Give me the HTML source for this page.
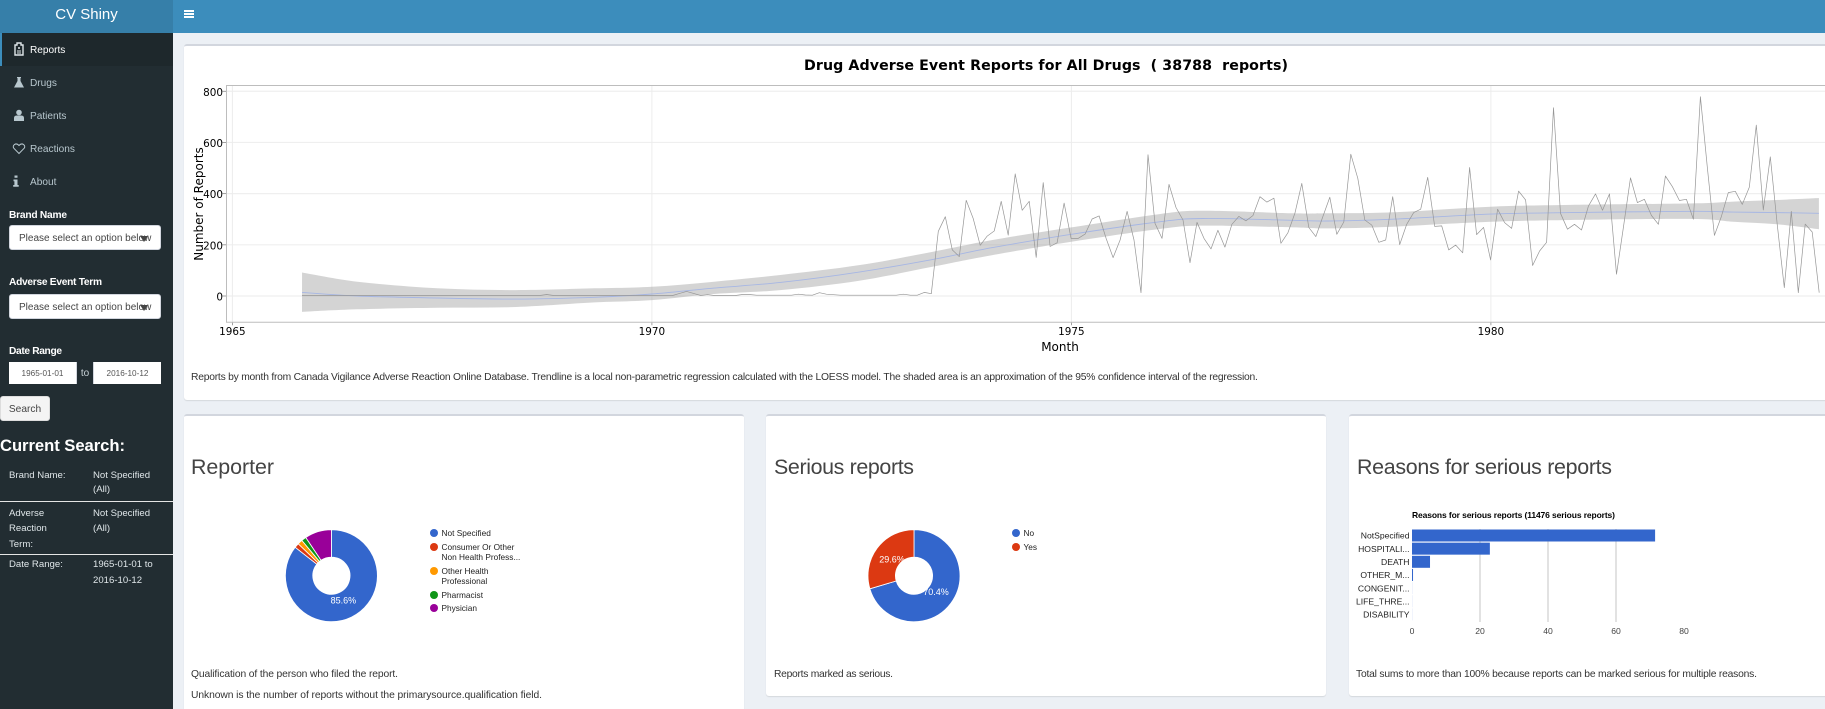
<!DOCTYPE html>
<html lang="en">
<head>
<meta charset="utf-8">
<title>CV Shiny</title>
<style>
html,body{margin:0;padding:0;width:1825px;height:709px;overflow:hidden;background:#ecf0f5;font-family:"Liberation Sans",sans-serif;}
#root{position:absolute;left:0;top:0;width:1825px;height:709px;overflow:hidden;}
.abs{position:absolute;}
.t{position:absolute;white-space:nowrap;line-height:14px;height:14px;}
.side{color:#dfe6e9;font-size:9.6px;}
.menu{position:absolute;left:0;width:173px;height:33px;}
.menu .lbl{position:absolute;left:30px;top:11px;line-height:14px;font-size:10.1px;color:#b8c7ce;white-space:nowrap;}
.menu svg{position:absolute;left:12px;top:9px;width:14px;height:14px;}
.lab{color:#fff;font-weight:bold;font-size:10.2px;}
.sel{position:absolute;left:9px;width:152px;background:#fff;border:1px solid #d2d6de;border-radius:3px;box-sizing:border-box;color:#444;font-size:10px;line-height:25px;height:25px;padding-left:9px;white-space:nowrap;overflow:hidden;}
.caret{position:absolute;left:130px;top:10px;width:0;height:0;border-left:4px solid transparent;border-right:4px solid transparent;border-top:6px solid #444;}
.date{position:absolute;top:362px;height:22px;background:#fff;box-sizing:border-box;color:#555;font-size:8.2px;line-height:24px;text-align:center;}
.box{position:absolute;background:#fff;border-top:2px solid #d2d6de;border-radius:3px;box-sizing:border-box;box-shadow:0 1px 1px rgba(0,0,0,.1);}
.h{color:#444;font-size:21.4px;line-height:28px;height:28px;position:absolute;white-space:nowrap;}
.cap{color:#333;font-size:10.3px;}
svg text{font-family:"Liberation Sans",sans-serif;}
svg.plot text{font-family:"DejaVu Sans",sans-serif;}
</style>
</head>
<body>
<div id="root">

<div class="abs" style="left:0;top:0;width:173px;height:33px;background:#367fa9">
  <div style="position:absolute;left:0;top:0;width:173px;text-align:center;color:#fff;font-size:15px;line-height:29px">CV Shiny</div>
</div>
<div class="abs" style="left:173px;top:0;width:1652px;height:33px;background:#3c8dbc">
  <svg class="abs" style="left:11px;top:10px" width="10" height="8"><rect width="10" height="2" fill="#fff"/><rect y="3" width="10" height="2" fill="#fff"/><rect y="6" width="10" height="2" fill="#fff"/></svg>
</div>

<div class="abs" style="left:0;top:33px;width:173px;height:676px;background:#222d32"></div>

<div class="menu" style="top:33px;background:#1e282c;border-left:2px solid #3c8dbc;box-sizing:border-box">
  <svg viewBox="0 0 14 14" style="left:10px"><path d="M3 3h2V1h4v2h2v10H3z" fill="none" stroke="#dfe6e9" stroke-width="1.4"/><path d="M6 6h2M7 5v2M5 9h4M5 11h4" stroke="#dfe6e9" stroke-width="1"/></svg>
  <div class="lbl" style="left:28px;color:#fff">Reports</div>
</div>
<div class="menu" style="top:66px">
  <svg viewBox="0 0 14 14"><path d="M5 2h4v1H8.5v3l3.5 6.5H2L5.5 6V3H5z" fill="#b8c7ce"/></svg>
  <div class="lbl">Drugs</div>
</div>
<div class="menu" style="top:99px">
  <svg viewBox="0 0 14 14"><circle cx="7" cy="4.5" r="2.8" fill="#b8c7ce"/><path d="M2 13V10q0-2.5 3-2.5h4q3 0 3 2.5v3z" fill="#b8c7ce"/></svg>
  <div class="lbl">Patients</div>
</div>
<div class="menu" style="top:132px">
  <svg viewBox="0 0 14 14"><path d="M7 12.5L1.8 7.2C-.2 4.5 3.8 1 7 4.5 10.2 1 14.2 4.5 12.2 7.2z" fill="none" stroke="#b8c7ce" stroke-width="1"/></svg>
  <div class="lbl">Reactions</div>
</div>
<div class="menu" style="top:165px">
  <svg viewBox="0 0 14 14"><path d="M2.5 1.5h3v2.2h-3zM1.5 5.5h4V11h1.2v1.8H1.2V11h1.2V7.2H1.5z" fill="#b8c7ce"/></svg>
  <div class="lbl">About</div>
</div>

<div class="t lab fit" data-w="58" style="left:9px;top:209px">Brand Name</div>
<div class="sel" style="top:225px">Please select an option below<span class="caret"></span></div>
<div class="t lab fit" data-w="93" style="left:9px;top:276px">Adverse Event Term</div>
<div class="sel" style="top:294px">Please select an option below<span class="caret"></span></div>
<div class="t lab fit" data-w="53" style="left:9px;top:345px">Date Range</div>
<div class="date" style="left:9px;width:67px">1965-01-01</div>
<div class="date" style="left:76px;width:18px;background:#222d32;color:#c9d3d8;font-size:10px;border-left:1px solid #d2d6de;border-right:1px solid #d2d6de">to</div>
<div class="date" style="left:94px;width:67px">2016-10-12</div>
<div class="abs" style="left:0;top:396px;width:50px;height:25px;background:#f4f4f4;border:1px solid #ddd;border-radius:3px;box-sizing:border-box;color:#444;font-size:10.2px;line-height:25px;text-align:center">Search</div>

<div class="t fit" data-w="125" style="left:0;top:439px;color:#fff;font-weight:bold;font-size:16.6px">Current Search:</div>
<div class="t side" style="left:9px;top:469px">Brand Name:</div>
<div class="t side" style="left:93px;top:469px">Not Specified</div>
<div class="t side" style="left:93px;top:483px">(All)</div>
<div class="abs" style="left:0;top:501px;width:173px;height:1px;background:#e5e5e5"></div>
<div class="t side" style="left:9px;top:507px">Adverse</div>
<div class="t side" style="left:9px;top:522px">Reaction</div>
<div class="t side" style="left:9px;top:538px">Term:</div>
<div class="t side" style="left:93px;top:507px">Not Specified</div>
<div class="t side" style="left:93px;top:522px">(All)</div>
<div class="abs" style="left:0;top:554px;width:173px;height:1px;background:#e5e5e5"></div>
<div class="t side" style="left:9px;top:558px">Date Range:</div>
<div class="t side" style="left:93px;top:558px">1965-01-01 to</div>
<div class="t side" style="left:93px;top:574px">2016-10-12</div>

<div class="box" style="left:184px;top:44px;width:1660px;height:356px"></div>
<div class="box" style="left:184px;top:414px;width:560px;height:320px"></div>
<div class="box" style="left:766px;top:414px;width:560px;height:282px"></div>
<div class="box" style="left:1349px;top:414px;width:500px;height:282px"></div>

<svg id="trend" class="plot abs" style="left:184px;top:47px" width="1641" height="310" viewBox="184 47 1641 310"></svg>
<div class="t cap fit" data-w="1067" style="left:191px;top:371px">Reports by month from Canada Vigilance Adverse Reaction Online Database. Trendline is a local non-parametric regression calculated with the LOESS model. The shaded area is an approximation of the 95% confidence interval of the regression.</div>

<div class="h fit" data-w="83" style="left:191px;top:453px">Reporter</div>
<div class="h fit" data-w="140" style="left:774px;top:453px">Serious reports</div>
<div class="h fit" data-w="255" style="left:1357px;top:453px">Reasons for serious reports</div>

<svg id="donut1" class="abs" style="left:190px;top:500px" width="540" height="150" viewBox="190 500 540 150"></svg>
<svg id="donut2" class="abs" style="left:770px;top:500px" width="540" height="150" viewBox="770 500 540 150"></svg>
<svg id="bars" class="abs" style="left:1350px;top:500px" width="470" height="150" viewBox="1350 500 470 150"></svg>

<div class="t cap fit" data-w="207" style="left:191px;top:668px">Qualification of the person who filed the report.</div>
<div class="t cap fit" data-w="351" style="left:191px;top:689px">Unknown is the number of reports without the primarysource.qualification field.</div>
<div class="t cap fit" data-w="119" style="left:774px;top:668px">Reports marked as serious.</div>
<div class="t cap fit" data-w="401" style="left:1356px;top:668px">Total sums to more than 100% because reports can be marked serious for multiple reasons.</div>
</div>

<script>
/* ---- time series data ---- */
const firstMonthYear = 1965.83;
const reportCounts = [
2,2,2,2,2,2,2,2,2,2,2,2,2,2,2,2,2,2,2,2,2,2,2,2,2,2,2,2,2,2,2,2,2,2,2,6,
2,2,2,2,2,2,2,2,2,2,2,2,2,2,2,2,2,2,10,18,10,2,5,2,2,2,2,6,6,3,
3,3,3,3,3,7,4,3,13,7,5,3,3,3,3,3,3,3,3,3,7,3,3,14,9,
253,310,180,154,374,303,198,234,254,370,238,477,335,370,151,443,194,208,363,225,
225,242,301,313,225,150,219,331,219,13,552,284,
225,436,346,297,130,288,225,184,257,191,280,311,294,314,388,367,382,206,247,323,
440,268,232,310,386,241,289,554,460,297,277,210,219,388,201,280,326,339,464,272,
274,180,199,169,502,240,268,141,339,287,264,410,375,119,176,210,736,
323,261,280,258,352,399,335,399,85,271,462,365,378,315,280,469,427,373,378,300,
779,500,237,310,404,409,358,425,668,336,544,277,33,331,13,281,250,13];
const trendYears = [1965.83,1966.49,1967.44,1968.38,1969.32,1970,1970.74,1971.53,1972.48,1973.35,1974.06,1975,1976.05,1976.57,1977.64,1978.05,1978.83,1980,1980.95,1982.41,1982.89,1983.41,1983.91];
const trendFit = [14,0,-8,-12,-5,8,31,53,94,143,189,241,290,303,296,293,300,320,326,331,328,326,323];
const trendLower = [-62,-52,-46,-43,-25,-16,8,23,60,115,160,212,262,275,268,264,271,290,297,301,290,280,261];
const trendUpper = [92,56,30,23,30,36,56,82,121,173,219,268,320,333,323,323,327,349,356,362,369,375,383];
const yTickValues = [0,200,400,600,800];
const xTickYears = [1965,1970,1975,1980];

/* ---- reporter donut ---- */
const reporterLabels = ["Not Specified","Consumer Or Other|Non Health Profess...","Other Health|Professional","Pharmacist","Physician"];
const reporterShares = [85.6,1.6,1.7,1.7,9.4];
/* ---- serious donut ---- */
const seriousLabels = ["No","Yes"];
const seriousShares = [70.4,29.6];
/* ---- reasons bars ---- */
const reasonLabels = ["NotSpecified","HOSPITALI...","DEATH","OTHER_M...","CONGENIT...","LIFE_THRE...","DISABILITY"];
const reasonValues = [71.5,22.9,5.3,0.3,0.02,0.02,0.02];
const reasonTicks = [0,20,40,60,80];

const NS = "http://www.w3.org/2000/svg";
function mk(parent, tag, attrs, txt){
  const e = document.createElementNS(NS, tag);
  for (const k in attrs) e.setAttribute(k, attrs[k]);
  if (txt !== undefined) e.textContent = txt;
  parent.appendChild(e);
  return e;
}
/* Catmull-Rom through points, returned as cubic segments (no leading move) */
function curveSegments(pts){
  let d = "";
  for (let i = 0; i < pts.length - 1; i++){
    const p0 = pts[Math.max(i-1,0)], p1 = pts[i], p2 = pts[i+1], p3 = pts[Math.min(i+2,pts.length-1)];
    const c1x = p1[0] + (p2[0]-p0[0])/6, c1y = p1[1] + (p2[1]-p0[1])/6;
    const c2x = p2[0] - (p3[0]-p1[0])/6, c2y = p2[1] - (p3[1]-p1[1])/6;
    d += `C${c1x.toFixed(1)} ${c1y.toFixed(1)} ${c2x.toFixed(1)} ${c2y.toFixed(1)} ${p2[0].toFixed(1)} ${p2[1].toFixed(1)}`;
  }
  return d;
}

/* ===== trend chart ===== */
(function(){
  const s = document.getElementById("trend");
  const X = y => 232.4 + (y - 1965) * 83.9;
  const Y = v => 296 - v * 0.2559;
  const plotL = 226.5, plotT = 85.5, plotB = 322.3, plotR = 1825;
  let el;

  el = mk(s, "text", {x:1046, y:70, "text-anchor":"middle", "font-size":"14.2", "font-weight":"bold", fill:"#000", style:"white-space:pre", textLength:484, lengthAdjust:"spacing"}, "Drug Adverse Event Reports for All Drugs  ( 38788  reports)");
  
  

  yTickValues.forEach(v => {
    let g = mk(s, "line", {x1:plotL, x2:plotR, y1:Y(v), y2:Y(v), stroke:"#efefef", "stroke-width":1.2});
    
    
    let tk = mk(s, "line", {x1:plotL-4, x2:plotL, y1:Y(v), y2:Y(v), stroke:"#888", "stroke-width":0.8});
    
    
    let lb = mk(s, "text", {x:plotL-3.5, y:Y(v)+4.5, "text-anchor":"end", "font-size":"10.4", fill:"#000"}, String(v));
    
    
  });
  xTickYears.forEach(y => {
    let g = mk(s, "line", {x1:X(y), x2:X(y), y1:plotT, y2:plotB, stroke:"#ececec", "stroke-width":1});
    
    
    let tk = mk(s, "line", {x1:X(y), x2:X(y), y1:plotB, y2:plotB+3, stroke:"#888", "stroke-width":0.8});
    
    
    let lb = mk(s, "text", {x:X(y), y:335, "text-anchor":"middle", "font-size":"10.4", fill:"#000"}, String(y));
    
    
  });

  const upperPts = trendYears.map((y,i) => [X(y), Y(trendUpper[i])]);
  const lowerPts = trendYears.map((y,i) => [X(y), Y(trendLower[i])]).reverse();
  const bandPath = `M${upperPts[0][0]} ${upperPts[0][1]}` + curveSegments(upperPts) + `L${lowerPts[0][0]} ${lowerPts[0][1]}` + curveSegments(lowerPts) + "Z";
  el = mk(s, "path", {d:bandPath, fill:"#999", "fill-opacity":0.42});
  
  

  const fitPts = trendYears.map((y,i) => [X(y), Y(trendFit[i])]);
  el = mk(s, "path", {d:`M${fitPts[0][0]} ${fitPts[0][1]}` + curveSegments(fitPts), fill:"none", stroke:"#a6b6e4", "stroke-width":0.9});
  
  

  el = mk(s, "polyline", {points:reportCounts.map((v,i)=>X(firstMonthYear+i/12).toFixed(1)+","+Y(v).toFixed(1)).join(" "), fill:"none", stroke:"#969696", "stroke-width":0.7, "stroke-linejoin":"round"});
  
  

  el = mk(s, "path", {d:`M${plotR} ${plotT}H${plotL}V${plotB}H${plotR}`, fill:"none", stroke:"#bdbdbd", "stroke-width":1});
  
  

  el = mk(s, "text", {x:1060, y:351, "text-anchor":"middle", "font-size":"12", fill:"#000"}, "Month");
  
  

  el = mk(s, "text", {transform:"translate(203,204) rotate(-90)", "text-anchor":"middle", "font-size":"12", fill:"#000"}, "Number of Reports");
  
  
})();

/* ===== donuts ===== */
function drawDonut(svgId, shares, labels, colors, cx, legendX, legendYs, showLabel){
  const s = document.getElementById(svgId);
  const cy = 575.7, R = 46, r = 18.6;
  const total = shares.reduce((a,b)=>a+b,0);
  let acc = 0;
  shares.forEach((v,i) => {
    const a0 = acc/total*2*Math.PI, a1 = (acc+v)/total*2*Math.PI;
    acc += v;
    const large = (a1-a0) > Math.PI ? 1 : 0;
    const p = (rad,a) => (cx+rad*Math.sin(a)).toFixed(2)+" "+(cy-rad*Math.cos(a)).toFixed(2);
    const d = `M${p(r,a0)}L${p(R,a0)}A${R} ${R} 0 ${large} 1 ${p(R,a1)}L${p(r,a1)}A${r} ${r} 0 ${large} 0 ${p(r,a0)}Z`;
    const slice = mk(s, "path", {d:d, fill:colors[i], stroke:"#fff", "stroke-width":0.8});
    
    
    if (v/total > showLabel){
      const m = (a0+a1)/2;
      const t = mk(s, "text", {x:cx+27.5*Math.sin(m), y:cy-27.5*Math.cos(m)+3, "text-anchor":"middle", "font-size":"9", fill:"#fff"}, v.toFixed(1)+"%");
      
      
    }
    const dot = mk(s, "circle", {cx:legendX, cy:legendYs[i], r:4, fill:colors[i]});
    
    
    labels[i].split("|").forEach((line,j) => {
      const t = mk(s, "text", {x:legendX+7.5, y:legendYs[i]+3+j*10, "font-size":"8.3", fill:"#222"}, line);
      
      
    });
  });
}
drawDonut("donut1", reporterShares, reporterLabels, ["#3366cc","#dc3912","#ff9900","#109618","#990099"], 331.4, 434, [533,547,571,595,608], 0.2);
drawDonut("donut2", seriousShares, seriousLabels, ["#3366cc","#dc3912"], 914, 1016, [533,547], 0.2);

/* ===== bars ===== */
(function(){
  const s = document.getElementById("bars");
  const X = v => 1412 + v * 3.4;
  const rowY = i => 529.5 + i * 13.15;
  let el = mk(s, "text", {x:1412, y:518, "font-size":"8.5", "font-weight":"bold", fill:"#000", textLength:203, lengthAdjust:"spacing"}, "Reasons for serious reports (11476 serious reports)");
  
  
  reasonTicks.forEach(v => {
    if (v > 0 && v < 80){
      const g = mk(s, "line", {x1:X(v), x2:X(v), y1:529, y2:622, stroke:"#c6c6c6", "stroke-width":1});
      
      
    }
    const t = mk(s, "text", {x:X(v), y:634, "text-anchor":"middle", "font-size":"8.6", fill:"#444"}, String(v));
    
    
  });
  reasonValues.forEach((v,i) => {
    const b = mk(s, "rect", {x:X(0), y:rowY(i), width:v*3.4, height:12, fill:"#3366cc"});
    
    
    const t = mk(s, "text", {x:1409.5, y:rowY(i)+9.2, "text-anchor":"end", "font-size":"8.6", fill:"#222"}, reasonLabels[i]);
    
    
  });
})();

/* ===== fit text widths ===== */
document.querySelectorAll(".fit").forEach(e => {
  const target = parseFloat(e.getAttribute("data-w"));
  const r = document.createRange();
  r.selectNodeContents(e);
  const w = r.getBoundingClientRect().width;
  const n = e.textContent.length;
  if (n > 1) e.style.letterSpacing = ((target - w) / (n - 1)).toFixed(3) + "px";
});
</script>
</body>
</html>
